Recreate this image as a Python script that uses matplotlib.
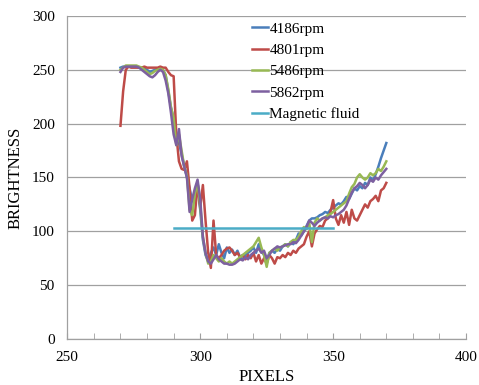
import numpy as np
import matplotlib
matplotlib.use('Agg')
import matplotlib.pyplot as plt

# pixel positions 270..370
pixels = np.arange(270, 371)

rpm_4186 = [252, 253, 253, 253, 253, 253, 253, 252, 252, 251,
            250, 248, 249, 250, 251, 251, 250, 245, 230, 215,
            205, 190, 182, 172, 160, 150, 140, 128, 135, 140,
            120, 92, 78, 72, 80, 85, 78, 88, 80, 75,
            85, 80, 83, 78, 82, 76, 74, 78, 80, 82,
            85, 80, 88, 82, 78, 72, 80, 82, 80, 84,
            82, 86, 88, 86, 90, 88, 92, 98, 96, 100,
            105, 110, 112, 112, 113, 115, 116, 118, 117, 120,
            122, 124, 126, 125, 128, 132, 130, 135, 140, 138,
            142, 140, 145, 143, 150, 147, 153, 160, 168, 175,
            182]
rpm_4801 = [198, 230, 250, 253, 252, 252, 252, 252, 252, 253,
            252, 252, 252, 252, 252, 253, 252, 252, 248, 245,
            244, 190, 165, 158, 157, 165, 140, 110, 115, 145,
            122, 143, 110, 80, 66, 110, 78, 75, 78, 82,
            84, 85, 82, 78, 80, 76, 78, 74, 78, 75,
            80, 72, 78, 70, 75, 70, 78, 75, 70, 76,
            75, 78, 76, 80, 78, 82, 80, 84, 86, 88,
            95, 100, 86, 98, 102, 105, 104, 110, 112, 118,
            129, 112, 106, 115, 108, 118, 106, 120, 112, 110,
            115, 120, 125, 122, 128, 130, 133, 128, 138, 140,
            145]
rpm_5486 = [250, 252, 254, 254, 254, 254, 254, 253, 252, 250,
            248, 246, 247, 249, 250, 251, 250, 245, 232, 215,
            205, 180, 190, 175, 160, 152, 120, 115, 135, 145,
            125, 95, 80, 70, 72, 78, 75, 72, 75, 72,
            70, 72, 70, 72, 74, 76, 78, 80, 82, 84,
            86, 90, 94, 85, 78, 67, 80, 82, 84, 82,
            85, 86, 88, 86, 90, 92, 92, 95, 100, 104,
            102, 108, 90, 108, 112, 110, 112, 113, 115, 116,
            118, 120, 122, 124, 126, 128, 135, 141, 144, 150,
            153, 150, 148, 150, 154, 152, 154, 158, 156, 160,
            165]
rpm_5862 = [248, 252, 253, 253, 253, 253, 253, 252, 250, 248,
            246, 244, 243, 245, 248, 250, 248, 240, 228, 210,
            190, 180, 195, 170, 160, 150, 118, 130, 140, 148,
            130, 95, 80, 72, 70, 74, 78, 74, 72, 70,
            70, 69, 69, 70, 72, 74, 73, 76, 74, 78,
            80, 82, 84, 80, 82, 75, 78, 82, 84, 86,
            85, 86, 87, 88, 88, 90, 89, 92, 96, 100,
            104, 110, 108, 105, 108, 110, 112, 113, 112, 114,
            113, 115, 116, 118, 120, 124, 130, 136, 140, 142,
            145, 143, 140, 143, 148, 146, 150, 148, 152, 155,
            158]
fluid_x = [290, 350]
fluid_y = [103, 103]

series = [('4186rpm', rpm_4186, '#4A7EBB'),
          ('4801rpm', rpm_4801, '#BE4B48'),
          ('5486rpm', rpm_5486, '#98B954'),
          ('5862rpm', rpm_5862, '#7D60A0')]

plt.rcParams['font.family'] = ['Liberation Serif', 'DejaVu Serif']

fig = plt.figure(figsize=(4.79, 3.85), dpi=100)
ax = fig.add_axes([0.1405, 0.1195, 0.8325, 0.8390])

for name, vals, col in series:
    ax.plot(pixels, vals, color=col, lw=1.8, label=name)
ax.plot(fluid_x, fluid_y, color='#4BACC6', lw=1.8, label='Magnetic fluid')

ax.set_xlim(250, 400)
ax.set_ylim(0, 300)
ax.set_xticks([250, 300, 350, 400])
ax.set_xticks(np.arange(250, 401, 10), minor=True)
ax.set_yticks(np.arange(0, 301, 50))
ax.grid(axis='y', color='#a0a0a0', lw=0.9)
ax.set_axisbelow(True)

for s in ['top', 'right']:
    ax.spines[s].set_visible(False)
for s in ['left', 'bottom']:
    ax.spines[s].set_color('#a0a0a0')
    ax.spines[s].set_linewidth(0.9)

ax.tick_params(axis='x', which='both', direction='in', length=4, color='#a0a0a0',
               pad=9, labelsize=11)
ax.tick_params(axis='y', length=0, pad=9, labelsize=11)

ax.set_xlabel('PIXELS', fontsize=12, labelpad=3)
ax.set_ylabel('BRIGHTNESS', fontsize=12, labelpad=6)

ax.legend(loc='upper left', bbox_to_anchor=(0.44, 1.01), frameon=False,
          fontsize=11, handlelength=1.05, handletextpad=0.1,
          labelspacing=0.5, borderaxespad=0.2)

fig.savefig('out.png', dpi=100)
